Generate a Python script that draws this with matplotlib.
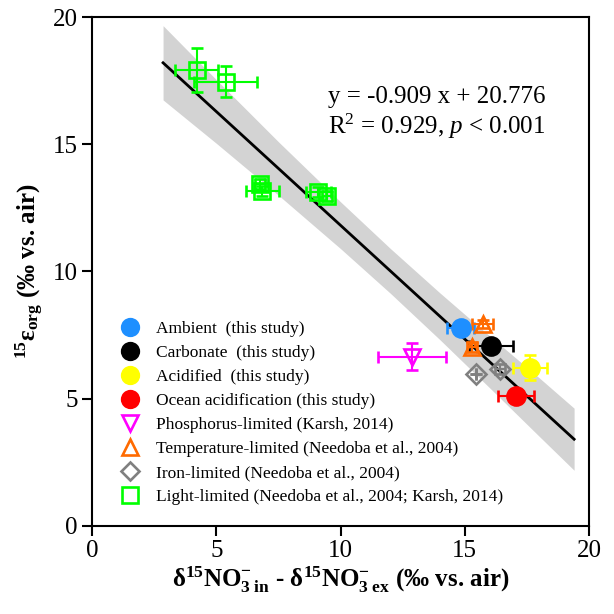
import matplotlib
matplotlib.use("Agg")
import matplotlib.pyplot as plt
from matplotlib.lines import Line2D

plt.rcParams['font.family'] = ['Liberation Serif', 'DejaVu Serif']
plt.rcParams['mathtext.fontset'] = 'custom'
plt.rcParams['mathtext.rm'] = 'Liberation Serif'
plt.rcParams['mathtext.it'] = 'Liberation Serif:italic'
plt.rcParams['mathtext.bf'] = 'Liberation Serif:bold'

# series: x, y, xerr, yerr
ambient_x, ambient_y, ambient_xe, ambient_ye = [14.83], [7.79], [0.54], [0.1]
carb_x, carb_y, carb_xe, carb_ye = [16.05], [7.08], [0.9], [0.2]
acid_x, acid_y, acid_xe, acid_ye = [17.62], [6.21], [0.7], [0.49]
oa_x, oa_y, oa_xe, oa_ye = [17.06], [5.10], [0.72], [0.22]
phos_x, phos_y, phos_xe, phos_ye = [12.88], [6.65], [1.37], [0.53]
temp_x, temp_y, temp_xe, temp_ye = [15.72, 15.27], [7.93, 7.02], [0.42, 0.2], [0.15, 0.2]
iron_x, iron_y, iron_xe, iron_ye = [15.45, 16.41], [5.97, 6.16], [0.0, 0.2], [0.0, 0.2]
light_x = [4.20, 5.38, 6.76, 6.84, 9.10, 9.44]
light_y = [17.92, 17.46, 13.44, 13.17, 13.13, 12.96]
light_xe = [0.85, 1.27, 0.2, 0.66, 0.5, 0.2]
light_ye = [0.87, 0.61, 0.2, 0.2, 0.2, 0.2]

# regression line and its confidence band
fit_x = [2.85, 19.4]
fit_y = [18.2, 3.4]
band_x = [2.85, 5, 7.5, 10, 12, 14, 16, 18, 19.4]
band_lo = [16.74, 15.03, 12.99, 10.89, 9.14, 7.31, 5.42, 3.51, 2.18]
band_hi = [19.66, 17.53, 15.09, 12.73, 10.90, 9.15, 7.46, 5.81, 4.62]

labels = ['Ambient  (this study)', 'Carbonate  (this study)', 'Acidified  (this study)',
          'Ocean acidification (this study)', 'Phosphorus-limited (Karsh, 2014)',
          'Temperature-limited (Needoba et al., 2004)', 'Iron-limited (Needoba et al., 2004)',
          'Light-limited (Needoba et al., 2004; Karsh, 2014)']

fig = plt.figure(figsize=(6.14, 6.14), dpi=100)
ax = fig.add_axes([0.1503, 0.1438, 0.809, 0.8285])

ax.fill_between(band_x, band_lo, band_hi, color='#d3d3d3', lw=0, zorder=1)
ax.plot(fit_x, fit_y, color='black', lw=2, zorder=2)

series = [
    (ambient_x, ambient_y, ambient_xe, ambient_ye, 'o', '#1e8fff', True, 13),
    (carb_x, carb_y, carb_xe, carb_ye, 'o', 'black', True, 13),
    (acid_x, acid_y, acid_xe, acid_ye, 'o', '#ffff00', True, 13),
    (oa_x, oa_y, oa_xe, oa_ye, 'o', '#ff0000', True, 13),
    (phos_x, phos_y, phos_xe, phos_ye, 'v', '#ff00ff', False, 12),
    (temp_x, temp_y, temp_xe, temp_ye, '^', '#ff6a00', False, 12),
    (iron_x, iron_y, iron_xe, iron_ye, 'D', '#808080', False, 10),
    (light_x, light_y, light_xe, light_ye, 's', '#00ff00', False, 12),
]

handles = []
for x, y, xe, ye, m, c, filled, ms in series:
    ax.errorbar(x, y, xerr=xe, yerr=ye, fmt=m, ms=ms, mfc=c if filled else 'none',
                mec=c, mew=1.9, ecolor=c, elinewidth=1.5, capsize=4, capthick=1.5, zorder=3)
    handles.append(Line2D([], [], ls='none', marker=m, ms=ms - 1, mfc=c if filled else 'none',
                          mec=c, mew=1.9))

ax.legend(handles, labels, loc='lower left', bbox_to_anchor=(0.02, 0.02), frameon=False,
          fontsize=12.5, handletextpad=0.5, labelspacing=0.45, borderaxespad=0.2)

ax.text(0.475, 0.83, 'y = -0.909 x + 20.776', transform=ax.transAxes, fontsize=18)
ax.text(0.475, 0.77, r'R$^2$ = 0.929, $\it{p}$ < 0.001', transform=ax.transAxes, fontsize=18)

ax.set_xlim(0, 20)
ax.set_ylim(0, 20)
ax.set_xticks([0, 5, 10, 15, 20])
ax.set_yticks([0, 5, 10, 15, 20])
ax.tick_params(direction='out', length=7, width=1.5, labelsize=18, top=False, right=False)
for s in ax.spines.values():
    s.set_linewidth(1.5)

ax.set_xlabel(r'$\mathbf{\delta^{15}NO_{3\ in}^{-}}$ - $\mathbf{\delta^{15}NO_{3\ ex}^{-}}$ (‰ vs. air)',
              fontsize=18, fontweight='bold', labelpad=2)
ax.set_ylabel(r'$\mathbf{^{15}\varepsilon_{org}}$ (‰ vs. air)', fontsize=18, fontweight='bold', labelpad=5)

fig.savefig('out.png', dpi=100)
